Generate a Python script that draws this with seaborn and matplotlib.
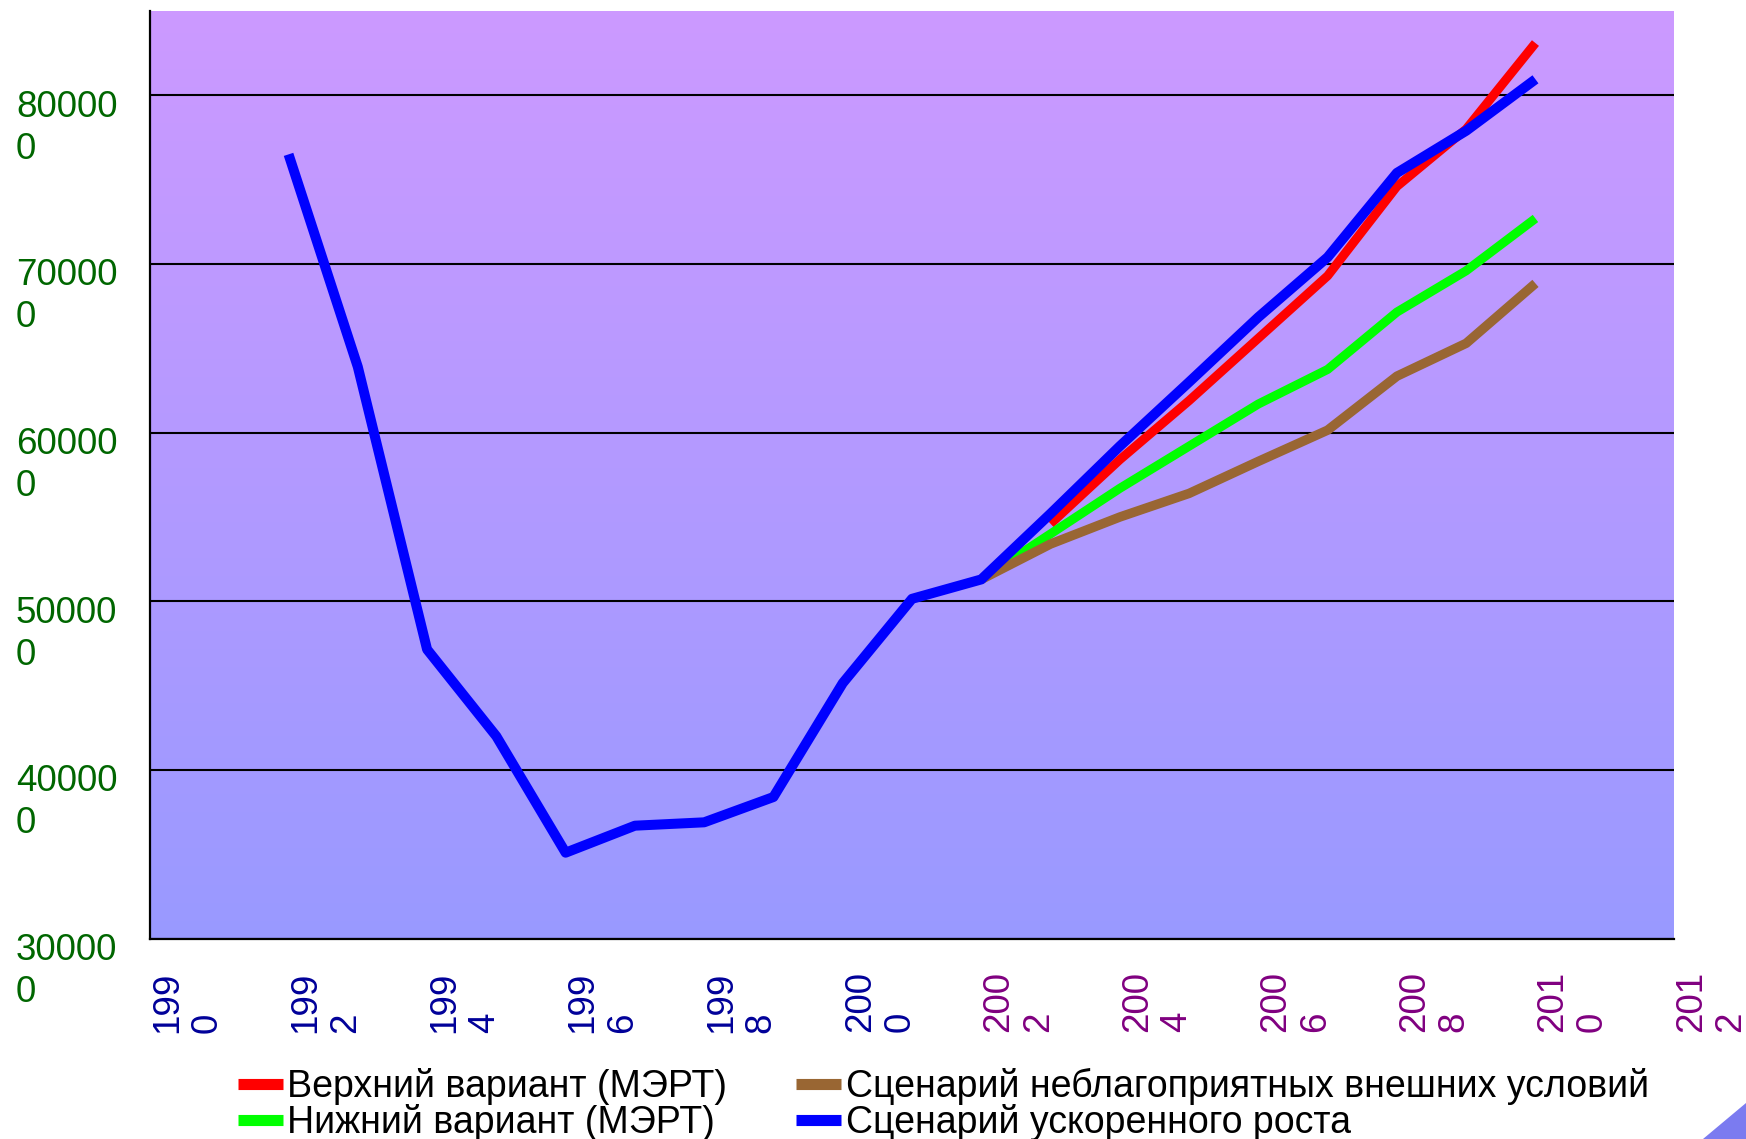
import numpy as np
import pandas as pd
import matplotlib
matplotlib.use("Agg")
import matplotlib.pyplot as plt
import seaborn as sns
from matplotlib.lines import Line2D
from matplotlib.colors import LinearSegmentedColormap
from matplotlib.transforms import ScaledTranslation, blended_transform_factory
from matplotlib.patches import Polygon

# ---------------- data ----------------
years_fast = list(range(1992, 2011))
fast_growth = [765000, 639000, 471500, 420000, 351000, 367000, 369000, 384000,
               451500, 501500, 513000, 552000, 592000, 630000, 668500, 704000,
               754000, 779000, 809500]
years_upper = list(range(2003, 2011))
upper_mert = [546000, 584000, 619000, 656000, 693000, 746000, 780000, 831000]
years_lower = list(range(2002, 2011))
lower_mert = [513000, 540000, 567000, 592000, 617000, 637500, 671500, 696000, 727000]
years_adverse = list(range(2002, 2011))
adverse = [513000, 534000, 550000, 564000, 583000, 601500, 633500, 653000, 688500]

series_names = ["Верхний вариант (МЭРТ)", "Нижний вариант (МЭРТ)",
                "Сценарий неблагоприятных внешних условий", "Сценарий ускоренного роста"]
series_colors = ["#FF0000", "#00FF00", "#996633", "#0000FF"]

x_ticks = list(range(1990, 2013, 2))
x_tick_labels = ["199\n0", "199\n2", "199\n4", "199\n6", "199\n8", "200\n0",
                 "200\n2", "200\n4", "200\n6", "200\n8", "201\n0", "201\n2"]
y_ticks = [300000, 400000, 500000, 600000, 700000, 800000]
y_tick_labels = ["30000\n0", "40000\n0", "50000\n0", "60000\n0", "70000\n0", "80000\n0"]

# ---------------- style ----------------
sns.set_style("white")
plt.rcParams["font.family"] = ["Liberation Sans", "DejaVu Sans"]
plt.rcParams["text.color"] = "black"

W, H = 1746, 1139
fig = plt.figure(figsize=(W / 100, H / 100), dpi=100)
left, right, top, bottom = 150 / W, 1674 / W, 1 - 11 / H, 1 - 938.7 / H
ax = fig.add_axes([left, bottom, right - left, top - bottom])

# background gradient
cmap = LinearSegmentedColormap.from_list("bg", ["#CC99FF", "#9999FF"])
ax.imshow(np.linspace(0, 1, 256).reshape(-1, 1), cmap=cmap, aspect="auto",
          extent=(1990, 2012, 300000, 850000), origin="upper", zorder=-1)

frames = [
    pd.DataFrame({"year": years_upper, "value": upper_mert}),
    pd.DataFrame({"year": years_lower, "value": lower_mert}),
    pd.DataFrame({"year": years_adverse, "value": adverse}),
    pd.DataFrame({"year": years_fast, "value": fast_growth}),
]
widths = [6.5, 6.5, 6.8, 7.2]
for i, df in enumerate(frames):
    sns.lineplot(data=df, x="year", y="value", ax=ax, color=series_colors[i],
                 linewidth=widths[i], solid_capstyle="butt", solid_joinstyle="round",
                 legend=False, zorder=3 + i)

ax.set_xlim(1990, 2012)
ax.set_ylim(300000, 850000)
ax.set_xlabel("")
ax.set_ylabel("")

# grid
ax.set_axisbelow(True)
ax.yaxis.grid(True, color="black", linewidth=1.5)
ax.xaxis.grid(False)
for s in ["top", "right"]:
    ax.spines[s].set_visible(False)
for s in ["left", "bottom"]:
    ax.spines[s].set_color("black")
    ax.spines[s].set_linewidth(1.6)

ax.set_yticks(y_ticks)
ax.set_yticklabels([])
ax.tick_params(axis="y", direction="out", length=5.5, width=1.5, color="black")

ax.set_xticks(x_ticks)
ax.set_xticklabels(x_tick_labels, rotation=90, ha="left", va="top",
                   multialignment="left", fontsize=26.5, linespacing=1.17)
ax.tick_params(axis="x", direction="out", length=5.5, width=1.5, color="black", pad=18)
for i, lab in enumerate(ax.get_xticklabels()):
    lab.set_color("#000099" if x_ticks[i] <= 2000 else "#800080")

# y labels, two lines, left-aligned at the figure's left
tr = blended_transform_factory(fig.transFigure, ax.transData)
for v, t in zip(y_ticks, y_tick_labels):
    ax.text(16 / W, v, t, transform=tr + ScaledTranslation(0, 4 / 72, fig.dpi_scale_trans),
            ha="left", va="top", fontsize=26.5, color="#006600", linespacing=1.26,
            clip_on=False)

# legend
handles = [Line2D([0], [0], color=c, lw=8, solid_capstyle="butt") for c in series_colors]
leg = fig.legend(handles, series_names, ncol=2, loc="upper left",
                 bbox_to_anchor=(238 / W, 1 - 1068 / H), frameon=False, fontsize=27,
                 handlelength=1.2, handletextpad=0.12, columnspacing=1.83,
                 labelspacing=-0.03, borderpad=0, borderaxespad=0)
for t in leg.get_texts():
    t.set_color("black")

# slide decoration in the lower-right corner
fig.patches.append(Polygon([[1703 / W, 0], [1, 36 / H], [1, 0]], closed=True,
                           transform=fig.transFigure, facecolor="#7B7BF0",
                           edgecolor="none"))

fig.savefig("out.png", dpi=100)
